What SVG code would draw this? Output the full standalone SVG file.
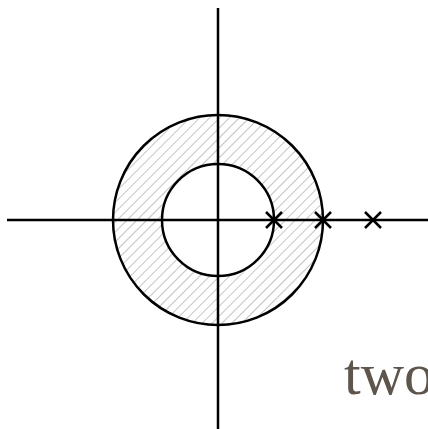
<svg xmlns="http://www.w3.org/2000/svg" width="428" height="429" viewBox="0 0 428 429">
  <style>
    .ln { stroke: #000; stroke-width: 2.5; fill: none; }
    .x { stroke: #000; stroke-width: 2.5; fill: none; }
    .lbl { font-family: "Liberation Serif", "Times New Roman", serif; font-size: 60px; fill: #5e564c; }
  </style>
  <defs>
    <pattern id="hatch" patternUnits="userSpaceOnUse" width="7" height="7" patternTransform="rotate(45)">
      <line x1="0" y1="0" x2="0" y2="7" stroke="#c4c4c4" stroke-width="2"/>
    </pattern>
  </defs>
  <rect width="428" height="429" fill="#fff"/>
  <g id="annulus">
    <path d="M 323 220 A 105 105 0 1 0 113 220 A 105 105 0 1 0 323 220 Z M 274 220 A 56 56 0 1 0 162 220 A 56 56 0 1 0 274 220 Z" fill="url(#hatch)" fill-rule="evenodd"/>
    <circle cx="218" cy="220" r="105" class="ln"/>
    <circle cx="218" cy="220" r="56" class="ln"/>
  </g>
  <g id="axes">
    <line x1="7" y1="220" x2="428" y2="220" class="ln"/>
    <line x1="218" y1="8" x2="218" y2="429" class="ln"/>
  </g>
  <g id="crosses">
    <g id="cross1"><path class="x" d="M 266 212 L 282 228 M 266 228 L 282 212"/></g>
    <g id="cross2"><path class="x" d="M 315 212 L 331 228 M 315 228 L 331 212"/></g>
    <g id="cross3"><path class="x" d="M 365 212 L 381 228 M 365 228 L 381 212"/></g>
  </g>
  <g id="label">
    <text x="344" y="394" class="lbl">two</text>
  </g>
</svg>
